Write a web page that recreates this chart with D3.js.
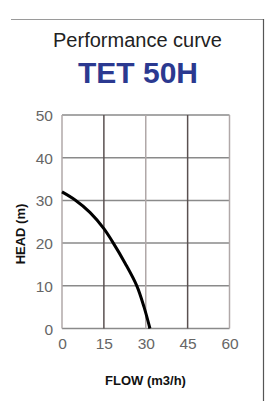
<!DOCTYPE html>
<html><head><meta charset="utf-8">
<script src="https://cdn.jsdelivr.net/npm/d3@7"></script>
<style>body{margin:0;background:#fff}svg{display:block}</style>
</head><body>
<svg id="c" width="267" height="401"></svg>
<script>
const title = "Performance curve";
const model = "TET 50H";
const xLabel = "FLOW (m3/h)";
const yLabel = "HEAD (m)";
const xTicks = [0, 15, 30, 45, 60];
const yTicks = [0, 10, 20, 30, 40, 50];
const flow = [0, 4.7, 10, 15, 18, 22.6, 26.8, 29.4, 31.5];
const head = [32, 30.1, 27.2, 23.4, 20.4, 15.3, 10, 5, 0];

const svg = d3.select("#c");
const font = "'Liberation Sans', Arial, sans-serif";
const x = d3.scaleLinear().domain([0, 60]).range([62, 229.5]);
const y = d3.scaleLinear().domain([0, 50]).range([328.5, 115]);

// frame
svg.append("line").attr("x1", 11).attr("x2", 264).attr("y1", 19.5).attr("y2", 19.5)
  .attr("stroke", "#9a9a9a").attr("stroke-width", 1.2);
svg.append("line").attr("x1", 263.5).attr("x2", 263.5).attr("y1", 19).attr("y2", 401)
  .attr("stroke", "#555").attr("stroke-width", 1.2);

// titles
svg.append("text").attr("x", 137.5).attr("y", 46.7).attr("text-anchor", "middle")
  .attr("font-family", font).attr("font-size", 20).attr("fill", "#222").text(title);
svg.append("text").attr("x", 138).attr("y", 83.3).attr("text-anchor", "middle")
  .attr("font-family", font).attr("font-size", 30).attr("font-weight", "bold").attr("fill", "#2b3990").text(model);

// grid
const g = svg.append("g");
g.selectAll(".h").data(yTicks).join("line")
  .attr("x1", x(0)).attr("x2", x(60)).attr("y1", d => y(d)).attr("y2", d => y(d))
  .attr("stroke", "#8a8a8a").attr("stroke-width", 1.5);
g.selectAll(".v").data(xTicks).join("line")
  .attr("x1", d => x(d)).attr("x2", d => x(d)).attr("y1", y(50)).attr("y2", y(0))
  .attr("stroke", (d, i) => i % 2 ? "#5a5050" : "#b0a8a8").attr("stroke-width", 1.5);

// axes labels
const xa = d3.axisBottom(x).tickValues(xTicks).tickSize(0).tickPadding(0);
const gx = svg.append("g").attr("transform", "translate(0,337)").call(xa);
gx.select(".domain").remove();
gx.selectAll("text").attr("font-family", font).attr("font-size", 15.5).attr("fill", "#666").attr("dy", "0.75em");

const ya = d3.axisLeft(y).tickValues(yTicks).tickSize(0).tickPadding(0);
const gy = svg.append("g").attr("transform", "translate(53,0)").call(ya);
gy.select(".domain").remove();
gy.selectAll("text").attr("font-family", font).attr("font-size", 15.5).attr("fill", "#666").attr("dy", "0.36em");

// curve
const pts = flow.map((f, i) => [f, head[i]]);
svg.append("path").datum(pts)
  .attr("d", d3.line().x(d => x(d[0])).y(d => y(d[1])).curve(d3.curveCatmullRom.alpha(0.5)))
  .attr("fill", "none").attr("stroke", "#000").attr("stroke-width", 3);

// axis titles
svg.append("text").attr("x", 145.5).attr("y", 385).attr("text-anchor", "middle")
  .attr("font-family", font).attr("font-size", 13).attr("font-weight", "bold").attr("fill", "#111").text(xLabel);
svg.append("text").attr("transform", "translate(25,234) rotate(-90)").attr("text-anchor", "middle")
  .attr("font-family", font).attr("font-size", 13).attr("font-weight", "bold").attr("fill", "#111").text(yLabel);
</script>
</body></html>
